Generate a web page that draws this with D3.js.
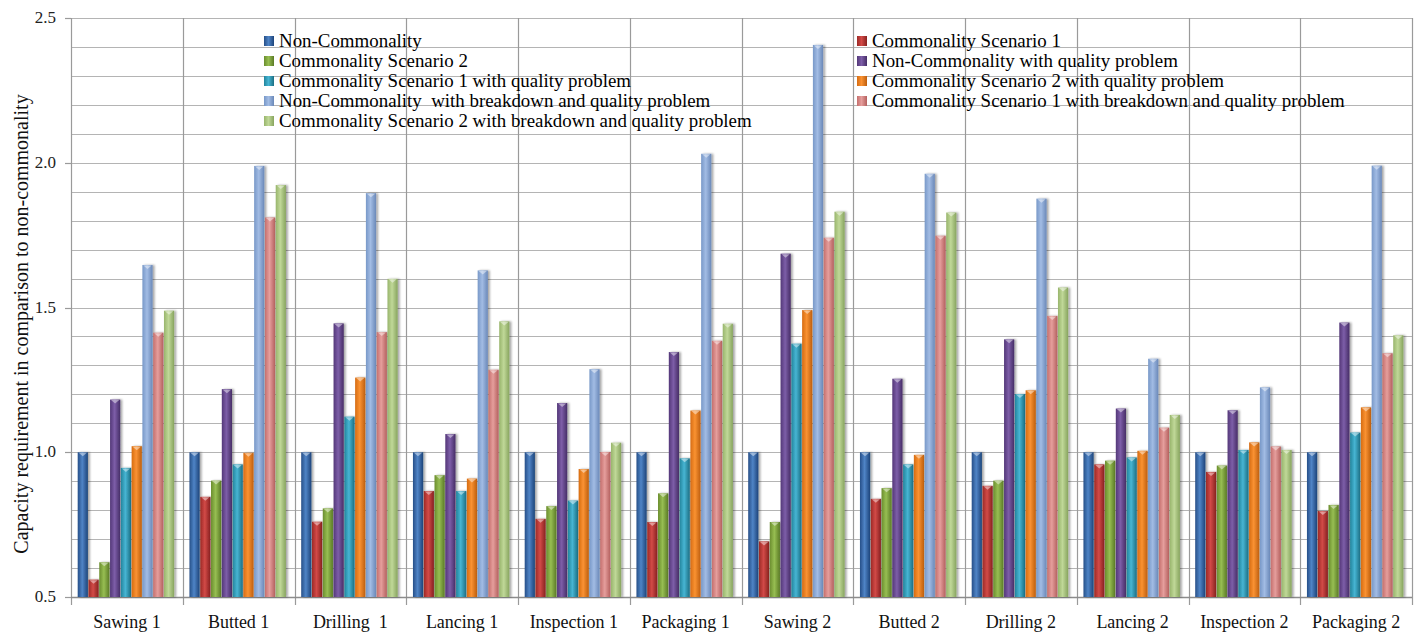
<!DOCTYPE html>
<html><head><meta charset="utf-8">
<script src="https://cdn.jsdelivr.net/npm/d3@7"></script>
<style>html,body{margin:0;padding:0;background:#fff;}svg{display:block;font-family:"Liberation Serif","Times New Roman",serif;}</style>
</head><body>
<svg id="chart" width="1421" height="632"></svg>
<script>
const categories = ["Sawing 1","Butted 1","Drilling  1","Lancing 1","Inspection 1","Packaging 1","Sawing 2","Butted 2","Drilling 2","Lancing 2","Inspection 2","Packaging 2"];
const seriesNames = ["Non-Commonality","Commonality Scenario 1","Commonality Scenario 2","Non-Commonality with quality problem","Commonality Scenario 1 with quality problem","Commonality Scenario 2 with quality problem","Non-Commonality  with breakdown and quality problem","Commonality Scenario 1 with breakdown and quality problem","Commonality Scenario 2 with breakdown and quality problem"];
const nonCommonality = [1,1,1,1,1,1,1,1,1,1,1,1];
const commonality1 = [0.56,0.846,0.76,0.866,0.77,0.759,0.692,0.839,0.884,0.958,0.932,0.797];
const commonality2 = [0.62,0.902,0.806,0.921,0.814,0.858,0.759,0.876,0.902,0.971,0.954,0.818];
const nonCommonalityQ = [1.182,1.218,1.445,1.063,1.17,1.346,1.686,1.254,1.39,1.151,1.145,1.448];
const commonality1Q = [0.946,0.958,1.123,0.866,0.833,0.979,1.375,0.958,1.201,0.982,1.008,1.068];
const commonality2Q = [1.021,0.998,1.258,0.909,0.942,1.144,1.491,0.991,1.214,1.005,1.034,1.155];
const nonCommonalityBQ = [1.647,1.989,1.895,1.628,1.287,2.031,2.407,1.962,1.876,1.323,1.224,1.99];
const commonality1BQ = [1.413,1.811,1.415,1.285,1.001,1.385,1.741,1.748,1.471,1.085,1.02,1.342];
const commonality2BQ = [1.489,1.923,1.599,1.452,1.033,1.444,1.831,1.828,1.569,1.129,1.008,1.404];
const yTicks = [0.5,1.0,1.5,2.0,2.5];

const seriesValues = [nonCommonality,commonality1,commonality2,nonCommonalityQ,commonality1Q,commonality2Q,nonCommonalityBQ,commonality1BQ,commonality2BQ];
const colors = [
  ["#264F88","#4F84C6","#1D447A"],
  ["#9C2926","#D24A47","#86211F"],
  ["#6A8D2E","#97BE52","#5A7A26"],
  ["#533778","#7D5EA8","#462D66"],
  ["#22849C","#47B5D3","#1B6E83"],
  ["#D66C12","#FA9232","#BD5E0E"],
  ["#7898C8","#A2BCE4","#6A88B8"],
  ["#C56F6D","#E59E9C","#B4605E"],
  ["#98B56C","#C0D898","#87A45E"]
];

const svg = d3.select("#chart");
const M = {left:71, right:1412, top:18, bottom:597};
const y = d3.scaleLinear().domain([0.5,2.5]).range([M.bottom, M.top]);
const x0 = d3.scaleBand().domain(categories).range([M.left, M.right]).padding(0);
const x1 = d3.scaleBand().domain(d3.range(seriesNames.length)).range([6.7, x0.bandwidth()-8]).padding(0);

const defs = svg.append("defs");
colors.forEach((c,i)=>{
  const g = defs.append("linearGradient").attr("id","g"+i).attr("x1","0").attr("x2","1").attr("y1","0").attr("y2","0");
  g.append("stop").attr("offset","0%").attr("stop-color",c[0]);
  g.append("stop").attr("offset","45%").attr("stop-color",c[1]);
  g.append("stop").attr("offset","100%").attr("stop-color",c[2]);
});

// grid
const grid = svg.append("g");
const minor = d3.range(5,26).map(d=>d/10);
grid.selectAll("line.h").data(minor).join("line")
  .attr("x1",M.left).attr("x2",M.right)
  .attr("y1",d=>Math.round(y(d))+0.5).attr("y2",d=>Math.round(y(d))+0.5)
  .attr("stroke","#B4B4B4").attr("stroke-width",1.2);
const bounds = categories.map(c=>x0(c)).concat([M.right]);
grid.selectAll("line.v").data(bounds).join("line")
  .attr("x1",d=>Math.round(d)+0.5).attr("x2",d=>Math.round(d)+0.5)
  .attr("y1",M.top).attr("y2",M.bottom+8)
  .attr("stroke","#9A9A9A").attr("stroke-width",1.2);
// y axis ticks
grid.selectAll("line.t").data(yTicks).join("line")
  .attr("x1",M.left-6).attr("x2",M.left)
  .attr("y1",d=>Math.round(y(d))+0.5).attr("y2",d=>Math.round(y(d))+0.5)
  .attr("stroke","#9A9A9A").attr("stroke-width",1.2);
grid.append("line").attr("x1",M.left).attr("x2",M.right).attr("y1",Math.round(y(0.5))+0.5).attr("y2",Math.round(y(0.5))+0.5).attr("stroke","#8C8C8C").attr("stroke-width",1.5);

// bars
const shadowF = defs.append("filter").attr("id","sh").attr("x","-50%").attr("y","-10%").attr("width","200%").attr("height","120%");
shadowF.append("feGaussianBlur").attr("in","SourceAlpha").attr("stdDeviation",1.2).attr("result","b");
shadowF.append("feOffset").attr("in","b").attr("dx",1.5).attr("dy",0).attr("result","o");
shadowF.append("feComponentTransfer").attr("in","o").attr("result","o2").append("feFuncA").attr("type","linear").attr("slope",0.35);
const mg = shadowF.append("feMerge"); mg.append("feMergeNode").attr("in","o2"); mg.append("feMergeNode").attr("in","SourceGraphic");

const groups = svg.append("g").selectAll("g").data(categories).join("g")
  .attr("transform",d=>`translate(${x0(d)},0)`);
groups.each(function(cat,ci){
  const g = d3.select(this);
  const data = seriesValues.map((arr,si)=>({si, v:arr[ci]}));
  const bg = g.selectAll("g.bar").data(data).join("g").attr("class","bar").attr("filter","url(#sh)");
  bg.append("rect")
    .attr("x",d=>x1(d.si)).attr("width",x1.bandwidth()-0.6)
    .attr("y",d=>y(d.v)).attr("height",d=>y(0.5)-y(d.v))
    .attr("fill",d=>`url(#g${d.si})`);
  bg.append("path")
    .attr("d",d=>{const xl=x1(d.si), w=x1.bandwidth()-0.6, yt=y(d.v);
      return `M${xl+1},${yt+0.5}L${xl+w-1},${yt+0.5}L${xl+w/2},${yt+4}Z`;})
    .attr("fill","#fff").attr("opacity",0.45);
});

// y tick labels
svg.append("g").selectAll("text").data(yTicks).join("text")
  .attr("x",56).attr("y",d=>y(d)+5).attr("text-anchor","end")
  .attr("font-size",17).attr("fill","#222").text(d=>d3.format(".1f")(d));
// x labels
svg.append("g").selectAll("text").data(categories).join("text")
  .attr("x",d=>x0(d)+x0.bandwidth()/2).attr("y",628)
  .attr("text-anchor","middle").attr("font-size",18).attr("fill","#111")
  .style("white-space","pre").text(d=>d);
// y title
svg.append("text").attr("transform","translate(28,324) rotate(-90)")
  .attr("text-anchor","middle").attr("font-size",20).attr("fill","#111")
  .text("Capacity requirement in comparison to non-commonality");

// legend
const leg = svg.append("g");
const legPos = seriesNames.map((n,i)=>({n,i,col:i%2,row:Math.floor(i/2)}));
const lg = leg.selectAll("g").data(legPos).join("g")
  .attr("transform",d=>`translate(${d.col===0?264:857},${41+d.row*20})`);
lg.append("rect").attr("x",0).attr("y",-5).attr("width",10).attr("height",10).attr("fill",d=>`url(#g${d.i})`);
lg.append("text").attr("x",15).attr("y",6).attr("font-size",18.9).attr("fill","#000")
  .style("white-space","pre").text(d=>d.n);
</script>
</body></html>
